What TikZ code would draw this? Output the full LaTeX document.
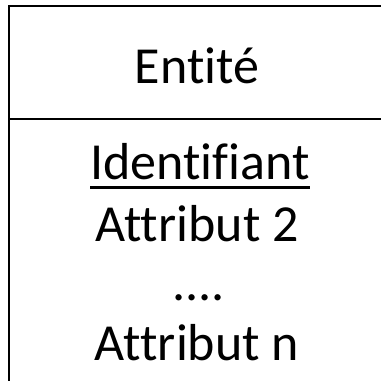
\documentclass[tikz,border=0pt]{standalone}
\usepackage{fontspec}
\setmainfont{Carlito}[Ligatures={NoCommon}]
\tikzset{
  frame/.style={line width=2pt, black},
  uline/.style={line width=2.2pt, black},
  label/.style={anchor=base, inner sep=0pt, font=\fontsize{52}{60}\selectfont}
}
\begin{document}
\begin{tikzpicture}[x=1pt,y=-1pt]
\useasboundingbox (0,0) rectangle (381,381);
\coordinate (tl) at (9,6);
\coordinate (tr) at (390,6);
\coordinate (bl) at (9,390);
\coordinate (ml) at (9,119);
\coordinate (mr) at (390,119);
\draw[frame] (bl) -- (tl) -- (tr);
\draw[frame] (ml) -- (mr);
\node[label] (ent) at (197,83) {Entité};
\node[label] (id) at (200,179) {Identifiant};
\draw[uline] ([yshift=-8.5pt]id.base west) -- ([yshift=-8.5pt]id.base east);
\node[label] (a2) at (197,241.5) {Attribut 2};
\node[label] (dots) at (198.5,300) {....};
\node[label] (an) at (197,360) {Attribut n};
\end{tikzpicture}
\end{document}
